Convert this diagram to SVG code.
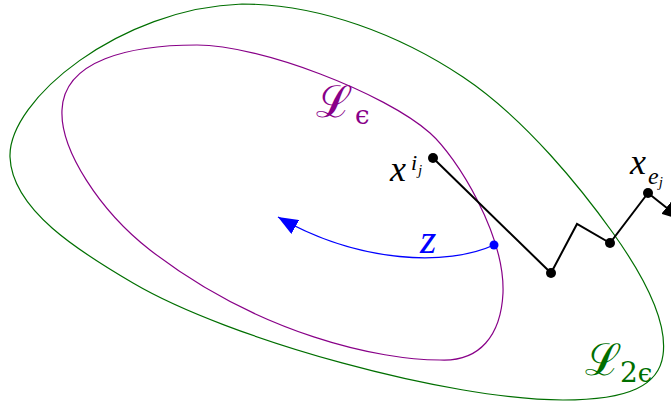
<svg xmlns="http://www.w3.org/2000/svg" width="671" height="407" viewBox="0 0 671 407">
<style>
.lvl{fill:none;stroke-width:1.2}
.math{font-family:'Liberation Serif','DejaVu Serif',serif;font-style:italic}
.cal{font-family:'DejaVu Serif','Liberation Serif',serif}
.sub{font-family:'DejaVu Serif','Liberation Serif',serif}
</style>
<defs>
<marker id="ahBlack" markerUnits="userSpaceOnUse" markerWidth="20" markerHeight="16" viewBox="0 0 20 16" refX="20" refY="8" orient="auto"><path d="M0,0 L20,8 L0,16 z" fill="#000"/></marker>
<marker id="ahBlue" markerUnits="userSpaceOnUse" markerWidth="20" markerHeight="16" viewBox="0 0 20 16" refX="20" refY="8" orient="auto"><path d="M0,0 L20,8 L0,16 z" fill="#0000ff"/></marker>
</defs>
<rect width="671" height="407" fill="#fff"/>
<g id="L2eps">
<path class="lvl" stroke="#006f00" d="M242,4 C320,4 400,35 463,77 C526,119 583,191 613,233 C643,275 668,320 663,355 C659,385 630,400 563,400 C450,400 230,340 133,283 C80,252 12,210 10,157 C8,100 120,8 242,4 Z"/>
<text class="cal" x="585" y="375" font-size="44" fill="#006f00">ℒ</text>
<text class="sub" x="620" y="382" font-size="28" fill="#006f00">2<tspan font-size="26">ϵ</tspan></text>
</g>
<g id="Leps">
<path class="lvl" stroke="#880088" d="M197,45 C260,45 385,93 430,133 C457,157 505,235 503,293 C501,335 480,362 440,360 C380,360 260,335 150,250 C100,211 60,150 62,110 C64,60 130,45 197,45 Z"/>
<text class="cal" x="316" y="117" font-size="44" fill="#880088">ℒ</text>
<text class="sub" x="355" y="124" font-size="26" fill="#880088">ϵ</text>
</g>
<g id="connectors">
<path fill="none" stroke="#0000ff" stroke-width="1.3" d="M494,245 C448,266 360,264 278,217" marker-end="url(#ahBlue)"/>
<polyline fill="none" stroke="#000" stroke-width="2" stroke-linejoin="miter" points="433,158 551,273 577,224 610,243 648,193"/>
<line x1="648" y1="193" x2="682" y2="220" stroke="#000" stroke-width="2" marker-end="url(#ahBlack)"/>
</g>
<g id="z">
<circle cx="494" cy="245" r="4.5" fill="#0000ff"/>
<text class="math" x="420" y="253" font-size="42" fill="#0000ff">z</text>
</g>
<g id="xij">
<circle cx="433" cy="158" r="5" fill="#000"/>
<text class="math" x="390" y="181" font-size="36" fill="#000">x</text>
<text class="math" x="411" y="170" font-size="22" fill="#000">i</text>
<text class="math" x="418" y="175" font-size="15" fill="#000">j</text>
</g>
<g id="nodes">
<circle cx="551" cy="273" r="5" fill="#000"/>
<circle cx="610" cy="243" r="5" fill="#000"/>
</g>
<g id="xej">
<circle cx="648" cy="193" r="5" fill="#000"/>
<text class="math" x="630" y="174" font-size="36" fill="#000">x</text>
<text class="math" x="648" y="184" font-size="24" fill="#000">e<tspan font-size="15" dy="3">j</tspan></text>
</g>
</svg>
